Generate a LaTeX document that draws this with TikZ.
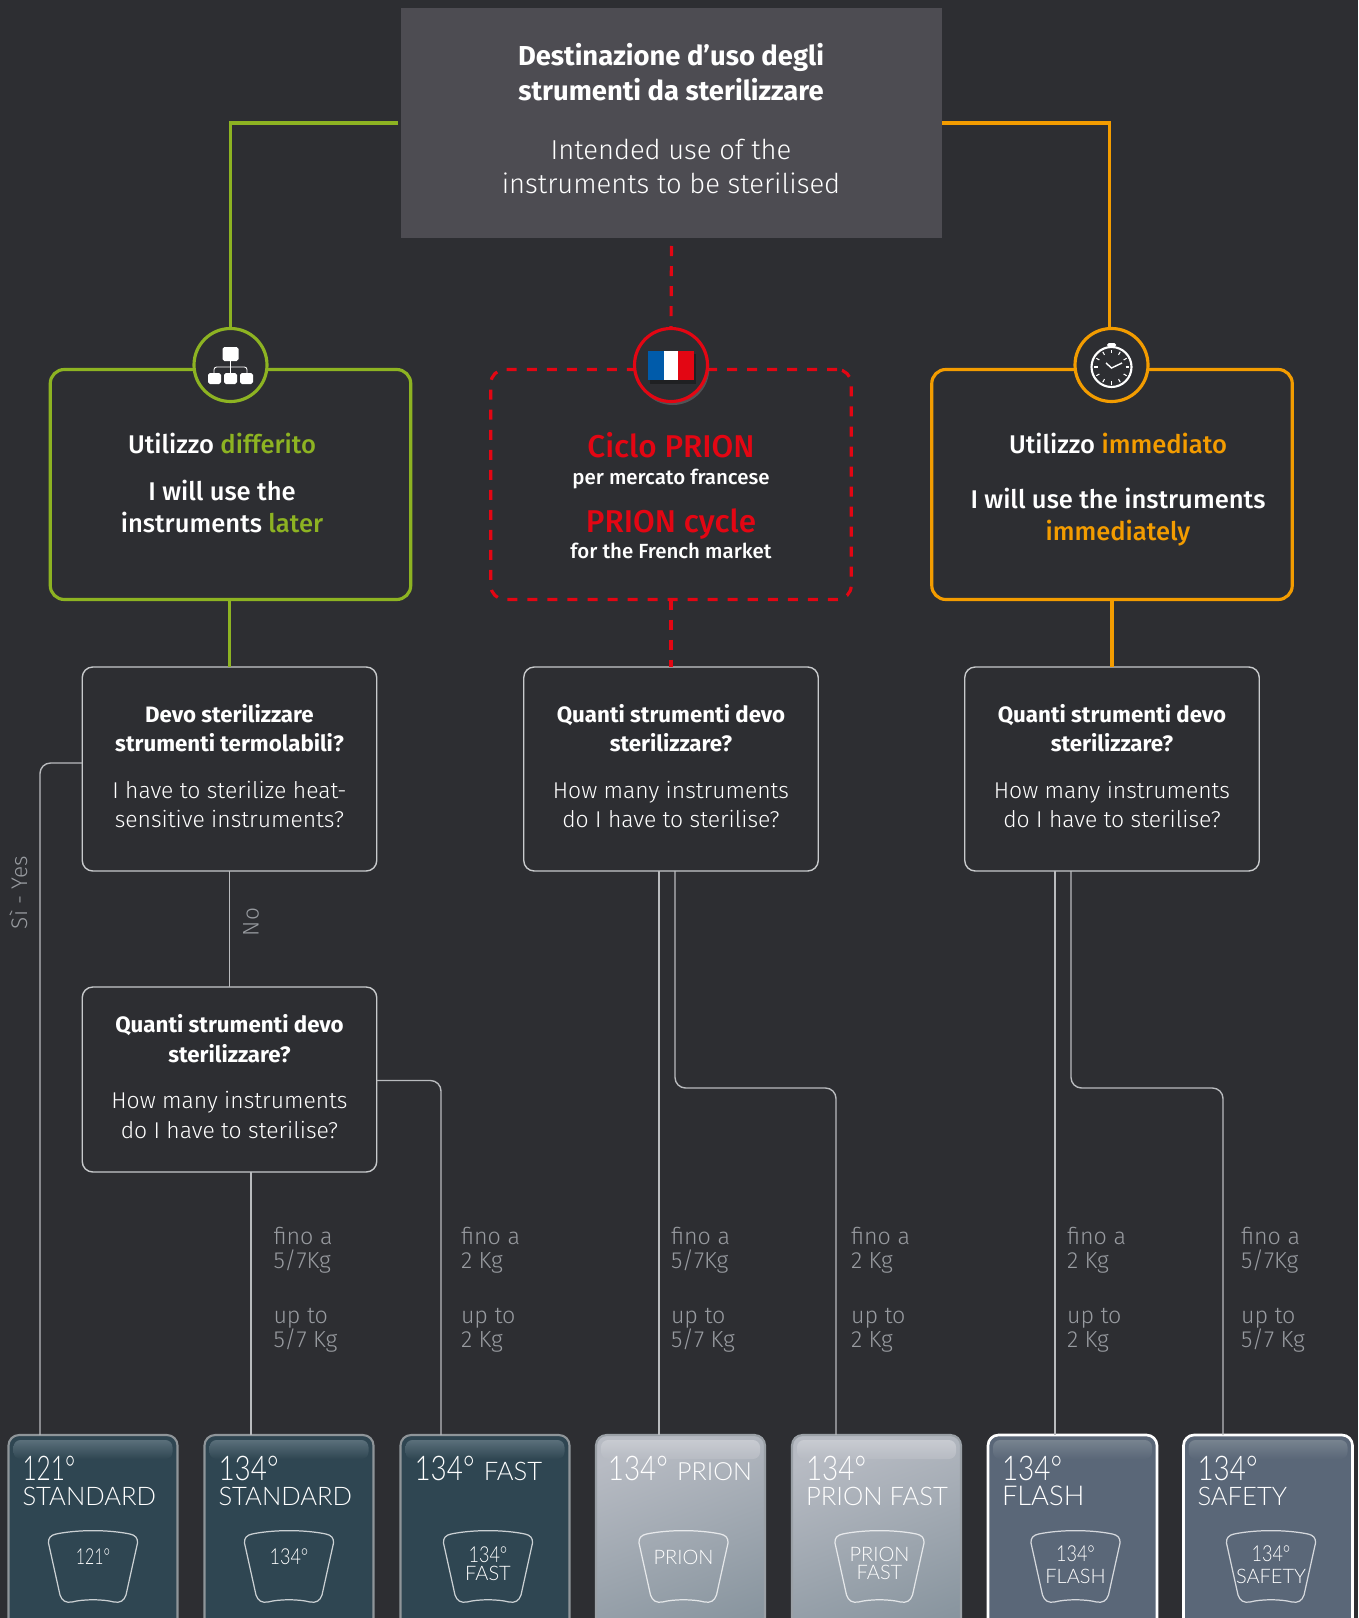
\documentclass[tikz,border=0pt]{standalone}
\usepackage{fontspec}
\usepackage{graphicx}
\usetikzlibrary{shadows}
\setmainfont{Fira Sans}
\newfontfamily\lightfont{Fira Sans Light}
\newfontfamily\medfont{Fira Sans Medium}
\newfontfamily\cardfont{Lato Light}
\newcommand{\pxsize}[2]{\fontsize{\fpeval{#1*0.569}pt}{\fpeval{#2*0.569}pt}\selectfont\lineskiplimit=-20pt\relax}

\definecolor{bgcol}{HTML}{2D2E32}
\definecolor{titlecol}{HTML}{4D4C52}
\definecolor{greencol}{HTML}{8DB322}
\definecolor{orangecol}{HTML}{F39C00}
\definecolor{redcol}{HTML}{E30613}
\definecolor{bluecol}{HTML}{005BAA}
\definecolor{labelcol}{HTML}{989BA0}
\definecolor{linkcol}{HTML}{B9BBBE}
\definecolor{edgecol}{HTML}{C8CACC}

\tikzset{
  plainbox/.style={inner sep=0pt,outer sep=0pt,align=center,text=white},
  outerbox/.style={plainbox,draw,line width=1.8pt,rounded corners=8pt,
    minimum width=360.5*0.02cm,minimum height=230*0.02cm},
  questbox/.style={plainbox,draw=edgecol,fill=bgcol,line width=0.8pt,rounded corners=6pt,
    minimum width=294.5*0.02cm,text depth=3.6pt,font=\pxsize{22.3}{29.5}},
  headtext/.style={plainbox,font=\medfont\pxsize{25.6}{32}},
  iconcirc/.style={circle,inner sep=0pt,outer sep=0pt,line width=1.8pt,fill=bgcol,
    minimum size=73*0.02cm},
  greenlink/.style={draw=greencol,line width=1.8pt},
  orangelink/.style={draw=orangecol,line width=1.8pt},
  redlink/.style={draw=redcol,line width=1.8pt,dash pattern=on 5.7pt off 5.7pt},
  greylink/.style={draw=linkcol,line width=0.8pt,rounded corners=6pt},
  sizelabel/.style={inner sep=0pt,outer sep=0pt,anchor=north west,align=left,text=labelcol,
    font=\lightfont\pxsize{23.3}{24}},
  sidelabel/.style={inner sep=0pt,outer sep=0pt,rotate=90,text=labelcol,font=\lightfont\pxsize{22.6}{24}},
  cardbox/.style={inner sep=0pt,outer sep=0pt,rounded corners=6pt,line width=1.2pt,
    minimum width=169*0.02cm,minimum height=225*0.02cm,anchor=north west},
  tealcard/.style={cardbox,draw=cardedge,fill=tealcol},
  silvercard/.style={cardbox,draw=silveredge,top color=silvertop,bottom color=silverbot,shading angle=20},
  slatecard/.style={cardbox,draw=white,fill=slatecol,line width=1.5pt},
  tealband/.style={top color=tealtop,bottom color=tealcol},
  silverband/.style={top color=silverhigh,bottom color=silvertop},
  slateband/.style={top color=slatetop,bottom color=slatecol},
  cardtext/.style={inner sep=0pt,outer sep=0pt,anchor=north west,align=left,text=white,
    font=\cardfont\pxsize{34}{30}},
  badgetext/.style={inner sep=0pt,outer sep=0pt,align=center,text=white,font=\cardfont\pxsize{22}{20}},
  badge/.pic={
    \draw[draw=white,draw opacity=.75,line width=0.7pt] (8,5) .. controls (30,0.5) and (60,0.5) .. (82,5)
      .. controls (87,6) and (90,9) .. (89.5,14) -- (78,66)
      .. controls (76,72) and (72,74) .. (66,73) .. controls (55,70) and (35,70) .. (24,73)
      .. controls (18,74) and (14,72) .. (12,66) -- (0.5,14)
      .. controls (0,9) and (3,6) .. (8,5) -- cycle;
  }
}
\definecolor{tealcol}{HTML}{2F4652}
\definecolor{tealtop}{HTML}{5A6F7A}
\definecolor{cardedge}{HTML}{8F9599}
\definecolor{silvertop}{HTML}{B7BBC3}
\definecolor{silverbot}{HTML}{85929C}
\definecolor{silverhigh}{HTML}{C8CBD1}
\definecolor{silveredge}{HTML}{9AA0A6}
\definecolor{slatecol}{HTML}{5A6778}
\definecolor{slatetop}{HTML}{77838F}

% name, left x, card style, band style, title text, badge offset, badge text, badge text y
\newcommand{\cyclecard}[8]{
  \node[#3] (#1) at (#2,1435) {};
  \path[#4,rounded corners=4pt] ([shift={(5,5)}]#1.north west) rectangle ([shift={(-5,24)}]#1.north east);
  \node[cardtext] (#1title) at ([shift={(14,21)}]#1.north west) {#5};
  \path ([shift={(#6,94)}]#1.north west) pic {badge};
  \node[badgetext] (#1badge) at ([shift={(#6+45,#8)}]#1.north west) {#7};
}
\newcommand{\cardsmall}{\pxsize{25.6}{27}}
\newcommand{\onetwo}{\scalebox{.72}[1]{121°}}
\newcommand{\onethree}{\scalebox{.82}[1]{134°}}
\newcommand{\questlight}{\lightfont\pxsize{22.9}{29.5}}

\begin{document}
\begin{tikzpicture}[x=0.02cm,y=-0.02cm]
  \clip (0,0) rectangle (1358,1618);
  \fill[bgcol] (0,0) rectangle (1358,1618);

  % top box
  \node[plainbox,fill=titlecol,minimum width=541*0.02cm,minimum height=230*0.02cm] (usebox) at (671.5,123) {};
  \node[plainbox,font=\pxsize{27.4}{34}] (usetext) at (671,118.5) {\bfseries Destinazione d'uso degli\\[1pt] \bfseries strumenti da sterilizzare\\[25*0.569pt]
    \lightfont Intended use of the\\ \lightfont instruments to be sterilised};

  % three outer boxes
  \node[outerbox,draw=greencol] (laterbox) at (230.5,484.5) {};
  \node[outerbox,draw=redcol,dash pattern=on 5.7pt off 5.7pt] (prionbox) at (671,484.5) {};
  \node[outerbox,draw=orangecol] (nowbox) at (1112,484.5) {};

  \node[iconcirc,draw=greencol] (latercirc) at (230.5,365) {};
  \node[iconcirc,draw=redcol,drop shadow={opacity=.45,shadow xshift=1pt,shadow yshift=-2pt}] (prioncirc) at (671,365) {};
  \node[iconcirc,draw=orangecol] (nowcirc) at (1111.5,365) {};

  \coordinate (nowturn) at (1109.5,124);
  \draw[greenlink,shorten <=3*0.02cm] (usebox.west) -| (latercirc.north);
  \draw[orangelink] (usebox.east) -- (usebox.east -| nowturn) -- (nowturn |- nowcirc.north);
  \draw[redlink,shorten <=8*0.02cm] (usebox.south) -- (prioncirc.north);

  % hierarchy icon
  \fill[white,rounded corners=1pt] (222.5,347) rectangle (238.5,361);
  \foreach \i in {208,224,240}
    \fill[white,rounded corners=1pt] (\i,373) rectangle (\i+13,384);
  \draw[white,line width=0.5pt] (230.5,361) -- (230.5,373);
  \draw[white,line width=0.5pt,rounded corners=1.5pt] (214,373) -- (214,367) -- (247,367) -- (247,373);

  % flag icon
  \fill[black,opacity=.3] (650,354) rectangle (696,384);
  \fill[bluecol] (648,351) rectangle (664,380);
  \fill[white] (664,351) rectangle (678,380);
  \fill[redcol] (678,351) rectangle (694,380);

  % clock icon
  \fill[white,rounded corners=1pt] (1107,343) rectangle (1116,347);
  \draw[white,line width=1.2pt] (1111.5,367) circle (20);
  \foreach \a in {0,30,...,330}
    \draw[white,line width=0.6pt] (1111.5,367) ++(\a:14) -- ++(\a:3.5);
  \draw[white,line width=0.8pt] (1106,363) -- (1111.5,368) -- (1122,363);

  % outer box texts
  \node[headtext] (latertext) at (222,483) {Utilizzo \textcolor{greencol}{differito}\\[15*0.569pt]
    I will use the\\ instruments \textcolor{greencol}{later}};
  \node[plainbox] (prionone) at (671,445) {\textcolor{redcol}{\medfont\pxsize{31.5}{32}Ciclo PRION}};
  \node[plainbox,font=\medfont\pxsize{20.5}{21}] (priontwo) at (671,479) {per mercato francese};
  \node[plainbox] (prionthree) at (671,524) {\textcolor{redcol}{\medfont\pxsize{31.5}{32}PRION cycle}};
  \node[plainbox,font=\medfont\pxsize{20.5}{21}] (prionfour) at (671,551) {for the French market};
  \node[headtext] (nowtext) at (1118,490) {Utilizzo \textcolor{orangecol}{immediato}\\[23*0.569pt]
    I will use the instruments\\ \textcolor{orangecol}{immediately}};

  % questions
  \node[questbox,minimum height=204*0.02cm] (heatbox) at (229.5,769) {\bfseries Devo sterilizzare\\ \bfseries strumenti termolabili?\\[17*0.569pt]
    \questlight I have to sterilize heat-\\ \questlight sensitive instruments?};
  \node[questbox,minimum height=185*0.02cm] (lateqbox) at (229.5,1079.5) {\bfseries Quanti strumenti devo\\ \bfseries sterilizzare?\\[17*0.569pt]
    \questlight How many instruments\\ \questlight do I have to sterilise?};
  \node[questbox,minimum height=204*0.02cm] (prionqbox) at (671,769) {\bfseries Quanti strumenti devo\\ \bfseries sterilizzare?\\[17*0.569pt]
    \questlight How many instruments\\ \questlight do I have to sterilise?};
  \node[questbox,minimum height=204*0.02cm] (nowqbox) at (1112,769) {\bfseries Quanti strumenti devo\\ \bfseries sterilizzare?\\[17*0.569pt]
    \questlight How many instruments\\ \questlight do I have to sterilise?};

  \draw[greenlink] (heatbox.north |- laterbox.south) -- (heatbox.north);
  \draw[redlink] (prionbox.south) -- (prionqbox.north);
  \draw[orangelink] (nowbox.south) -- (nowqbox.north);
  \draw[greylink] (heatbox.south) -- (lateqbox.north);

  % cards
  \cyclecard{cardone}{8.5}{tealcard}{tealband}{\onetwo\\[-2.7pt]{\cardsmall STANDARD}}{39.5}{\onetwo}{122}
  \cyclecard{cardtwo}{204.5}{tealcard}{tealband}{\onethree\\[-2.7pt]{\cardsmall STANDARD}}{39.5}{\onethree}{122}
  \cyclecard{cardthree}{400.5}{tealcard}{tealband}{\onethree\ {\cardsmall FAST}}{42.5}{\onethree\\[-1pt] {\pxsize{20}{20}FAST}}{128.5}
  \cyclecard{cardfour}{596}{silvercard}{silverband}{\kern-1.2pt\onethree\ {\pxsize{25}{27}PRION}}{42.5}{{\pxsize{20}{20}PRION}}{122}
  \cyclecard{cardfive}{792}{silvercard}{silverband}{\onethree\\[-2.7pt]{\cardsmall PRION FAST}}{42.5}{{\pxsize{20}{20}PRION}\\[-1pt] {\pxsize{20}{20}FAST}}{128.5}
  \cyclecard{cardsix}{988}{slatecard}{slateband}{\onethree\\[-2.7pt]{\pxsize{27.3}{27}FLASH}}{42.5}{\onethree\\[1pt] {\pxsize{20}{20}FLASH}}{129.5}
  \cyclecard{cardseven}{1183.5}{slatecard}{slateband}{\onethree\\[-2.7pt]{\cardsmall SAFETY}}{42.5}{\onethree\\[1pt] {\pxsize{20}{20}SAFETY}}{129.5}

  % links to cards
  \coordinate (heatout) at (82,763);
  \draw[greylink] (heatout) -| ([xshift=31.5*0.02cm]cardone.north west);
  \draw[greylink] (lateqbox.south -| cardtwo.north west) ++(46.5,0) -- ([xshift=46.5*0.02cm]cardtwo.north west);
  \draw[greylink] ([yshift=-1*0.02cm]lateqbox.east) -| ([xshift=40.5*0.02cm]cardthree.north west);
  \draw[greylink] (prionqbox.south -| cardfour.north west) ++(63,0) -- ([xshift=63*0.02cm]cardfour.north west);
  \coordinate (prionbend) at (675,1088);
  \draw[greylink] (prionqbox.south -| prionbend) -- (prionbend) -| ([xshift=44*0.02cm]cardfive.north west);
  \draw[greylink] (nowqbox.south -| cardsix.north west) ++(67,0) -- ([xshift=67*0.02cm]cardsix.north west);
  \coordinate (nowbend) at (1071,1088);
  \draw[greylink] (nowqbox.south -| nowbend) -- (nowbend) -| ([xshift=39.5*0.02cm]cardseven.north west);

  % labels
  \node[sidelabel] (yeslabel) at (18.5,892.5) {Sì - Yes};
  \node[sidelabel] (nolabel) at (251,922) {No};
  \node[sizelabel] (sizeone) at (273.5,1227) {fino a\\ 5/7Kg\\[31*0.569pt] up to\\ 5/7 Kg};
  \node[sizelabel] (sizetwo) at (461,1227) {fino a\\ 2 Kg\\[31*0.569pt] up to\\ 2 Kg};
  \node[sizelabel] (sizethree) at (671,1227) {fino a\\ 5/7Kg\\[31*0.569pt] up to\\ 5/7 Kg};
  \node[sizelabel] (sizefour) at (851,1227) {fino a\\ 2 Kg\\[31*0.569pt] up to\\ 2 Kg};
  \node[sizelabel] (sizefive) at (1067,1227) {fino a\\ 2 Kg\\[31*0.569pt] up to\\ 2 Kg};
  \node[sizelabel] (sizesix) at (1241,1227) {fino a\\ 5/7Kg\\[31*0.569pt] up to\\ 5/7 Kg};
\end{tikzpicture}
\end{document}
